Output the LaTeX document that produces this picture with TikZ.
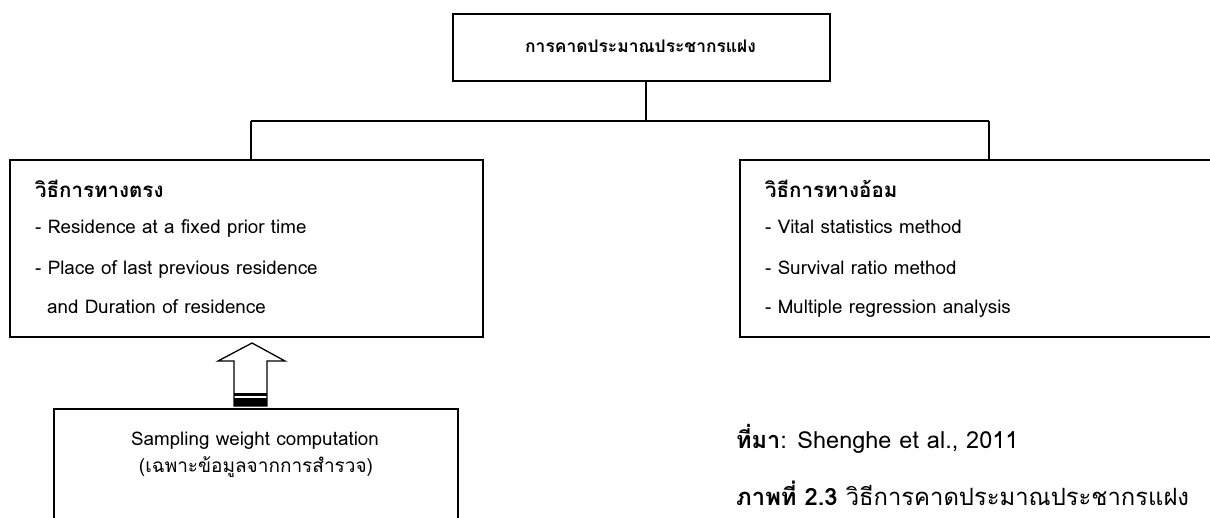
\documentclass[tikz,border=0pt]{standalone}
\usepackage{fontspec}
\setmainfont[Script=Thai]{Loma}
\begin{document}
\begin{tikzpicture}[x=1pt,y=-1pt,
  box/.style={draw, line width=1.6pt, inner sep=0pt, anchor=north west},
  conn/.style={line width=1.6pt},
  txt/.style={anchor=base west, inner sep=0pt, font=\fontsize{18.8}{22}\selectfont},
  hdr/.style={anchor=base west, inner sep=0pt, font=\bfseries\fontsize{20.5}{24}\selectfont},
  ctxt/.style={anchor=base, inner sep=0pt, font=\fontsize{18.8}{22}\selectfont},
  captext/.style={anchor=base west, inner sep=0pt, font=\fontsize{23.5}{28}\selectfont}]
\clip (0,0) rectangle (1210,517);
\fill[white] (0,0) rectangle (1210,517);
% boxes
\node[box, minimum width=377pt, minimum height=67pt] (top) at (452,13) {};
\node[box, minimum width=473pt, minimum height=177pt] (left) at (9,159) {};
\node[box, minimum width=476pt, minimum height=177pt] (right) at (739,159) {};
\node[box, minimum width=404pt, minimum height=130pt] (bottom) at (53,408) {};
% connectors
\coordinate (j) at (646,121);
\coordinate (jl) at (251,121);
\coordinate (jr) at (989,121);
\draw[conn] (top.south -| j) -- (j);
\draw[conn] (jl) -- (jr);
\draw[conn] (jl) -- (jl |- left.north);
\draw[conn] (jr) -- (jr |- right.north);
% block arrow
\draw[line width=1.3pt, line join=miter] (252,343) -- (285,361) -- (267,361) -- (267,406) -- (234,406) -- (234,361) -- (218,361) -- cycle;
\draw[line width=3pt] (234,394.5) -- (267,394.5);
\fill (234,398) rectangle (267,406);
% texts
\node[anchor=base, inner sep=0pt, font=\bfseries\fontsize{17.4}{21}\selectfont] (tt) at (640.5,52.5) {การคาดประมาณประชากรแฝง};
\node[hdr] (l0) at (35,197) {วิธีการทางตรง};
\node[txt] (l1) at (35,233.5) {- Residence at a fixed prior time};
\node[txt] (l2) at (35,274) {- Place of last previous residence};
\node[txt] (l3) at (47,313.5) {and Duration of residence};
\node[hdr] (r0) at (765,197) {วิธีการทางอ้อม};
\node[txt] (r1) at (765,233.5) {- Vital statistics method};
\node[txt] (r2) at (765,274) {- Survival ratio method};
\node[txt] (r3) at (765,313.5) {- Multiple regression analysis};
\node[ctxt] (b1) at (255,445) {Sampling weight computation};
\node[anchor=base, inner sep=0pt, font=\fontsize{19}{23}\selectfont] (b2) at (256,472.5) {(เฉพาะข้อมูลจากการสำรวจ)};
\node[captext] (c1) at (736,448) {\textbf{ที่มา}: Shenghe et al., 2011};
\node[captext, font=\fontsize{23.8}{28}\selectfont] (c2) at (736,505) {\textbf{ภาพที่ 2.3} วิธีการคาดประมาณประชากรแฝง};
\end{tikzpicture}
\end{document}
